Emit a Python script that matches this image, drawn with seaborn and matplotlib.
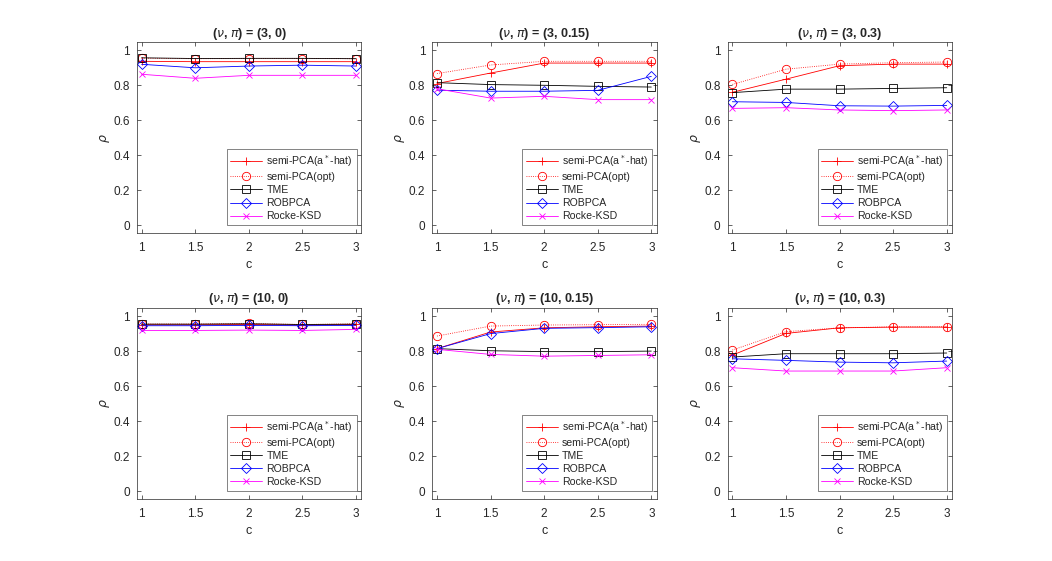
"""
Six-panel comparison of rho vs c for the semi-PCA family and robust PCA baselines.
"""

import matplotlib
matplotlib.use("Agg")
import matplotlib.pyplot as plt
import seaborn as sns

# x axis values
c_values = [1, 1.5, 2, 2.5, 3]

# panel titles, in reading order
panel_titles = [
    r"($\nu$, $\pi$) = (3, 0)", r"($\nu$, $\pi$) = (3, 0.15)", r"($\nu$, $\pi$) = (3, 0.3)",
    r"($\nu$, $\pi$) = (10, 0)", r"($\nu$, $\pi$) = (10, 0.15)", r"($\nu$, $\pi$) = (10, 0.3)",
]

method_labels = ["semi-PCA(a$^*$-hat)", "semi-PCA(opt)", "TME", "ROBPCA", "Rocke-KSD"]

# one row per panel (same order as panel_titles)
semi_hat = [
    [0.937, 0.935, 0.935, 0.935, 0.935],
    [0.810, 0.870, 0.927, 0.927, 0.927],
    [0.760, 0.835, 0.912, 0.921, 0.921],
    [0.950, 0.950, 0.952, 0.948, 0.952],
    [0.814, 0.909, 0.933, 0.939, 0.943],
    [0.777, 0.901, 0.933, 0.937, 0.937],
]
semi_opt = [
    [0.955, 0.952, 0.953, 0.953, 0.952],
    [0.867, 0.916, 0.937, 0.937, 0.937],
    [0.805, 0.892, 0.921, 0.929, 0.933],
    [0.955, 0.955, 0.958, 0.952, 0.956],
    [0.886, 0.943, 0.949, 0.951, 0.953],
    [0.806, 0.911, 0.933, 0.939, 0.939],
]
tme = [
    [0.957, 0.953, 0.954, 0.954, 0.952],
    [0.815, 0.804, 0.800, 0.794, 0.790],
    [0.758, 0.778, 0.778, 0.782, 0.786],
    [0.954, 0.954, 0.956, 0.952, 0.954],
    [0.814, 0.802, 0.797, 0.797, 0.800],
    [0.766, 0.785, 0.785, 0.785, 0.789],
]
robpca = [
    [0.920, 0.900, 0.910, 0.915, 0.910],
    [0.772, 0.766, 0.766, 0.771, 0.851],
    [0.706, 0.702, 0.683, 0.681, 0.685],
    [0.945, 0.945, 0.947, 0.945, 0.947],
    [0.814, 0.900, 0.930, 0.934, 0.939],
    [0.756, 0.747, 0.737, 0.733, 0.743],
]
rocke_ksd = [
    [0.863, 0.840, 0.857, 0.857, 0.857],
    [0.780, 0.727, 0.737, 0.718, 0.718],
    [0.668, 0.672, 0.659, 0.655, 0.659],
    [0.918, 0.918, 0.920, 0.918, 0.924],
    [0.810, 0.781, 0.771, 0.775, 0.779],
    [0.705, 0.686, 0.686, 0.686, 0.705],
]

# line styles per method (color, marker, linestyle, markersize)
STYLES = [
    ("#ff0000", "+", "-", 6),
    ("#ff0000", "o", ":", 6),
    ("#000000", "s", "-", 5.5),
    ("#0000ff", "D", "-", 5),
    ("#ff00ff", "x", "-", 4.5),
]

sns.set_theme(style="white")
plt.rcParams["font.family"] = ["Liberation Sans", "DejaVu Sans"]
plt.rcParams["mathtext.fontset"] = "dejavusans"

fig = plt.figure(figsize=(10.52, 5.61), dpi=100)

# MATLAB-like subplot positions
lefts = [0.13, 0.4108, 0.6916]
bottoms = [0.5838, 0.11]
width, height = 0.2134, 0.3412

all_series = [semi_hat, semi_opt, tme, robpca, rocke_ksd]

for p, title in enumerate(panel_titles):
    row, col = divmod(p, 3)
    ax = fig.add_axes([lefts[col], bottoms[row], width, height])

    for m, series in enumerate(all_series):
        color, marker, ls, ms = STYLES[m]
        sns.lineplot(
            x=c_values, y=series[p], ax=ax, color=color, marker=marker,
            linestyle=ls, linewidth=0.6, markersize=ms,
            mfc="none", mec=color, mew=0.6, label=method_labels[m],
        )

    ax.set_xlim(0.955, 3.05)
    ax.set_ylim(-0.047, 1.047)
    ax.set_xticks(c_values)
    ax.set_xticklabels(["1", "1.5", "2", "2.5", "3"])
    ax.set_yticks([0, 0.2, 0.4, 0.6, 0.8, 1])
    ax.set_yticklabels(["0", "0.2", "0.4", "0.6", "0.8", "1"])
    ax.tick_params(direction="in", length=3, width=0.5, colors="#262626",
                   labelsize=8.5, top=True, right=True, bottom=True, left=True)
    ax.tick_params(axis="x", pad=6)
    ax.tick_params(axis="y", pad=5)
    for spine in ax.spines.values():
        spine.set_visible(True)
        spine.set_color("#262626")
        spine.set_linewidth(0.5)
    ax.set_xlabel("c", fontsize=9, color="#262626", labelpad=4)
    ax.set_ylabel(r"$\rho$", fontsize=9, color="#262626", labelpad=1)
    ax.set_title(title, fontsize=9, fontweight="bold", pad=4)

    leg = ax.legend(
        loc="lower right", bbox_to_anchor=(0.979, 0.044), borderaxespad=0,
        fontsize=7.6, frameon=True, fancybox=False, handlelength=3.0,
        handletextpad=0.4, labelspacing=0.3, borderpad=0.35,
    )
    leg.get_frame().set_edgecolor("#262626")
    leg.get_frame().set_linewidth(0.5)

fig.savefig("out.png", dpi=100)
